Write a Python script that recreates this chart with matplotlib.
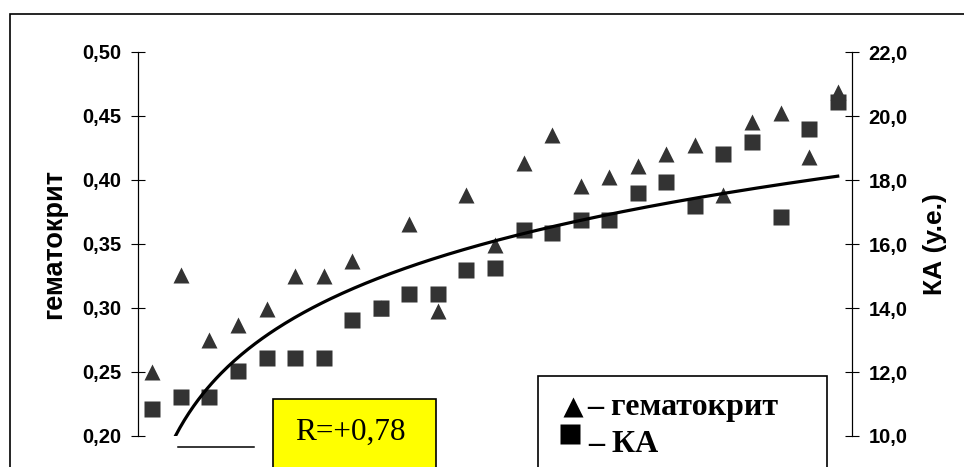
import numpy as np
import matplotlib
matplotlib.use("Agg")
import matplotlib.pyplot as plt
from matplotlib.patches import Rectangle
from matplotlib.lines import Line2D
from matplotlib.ticker import FuncFormatter, MultipleLocator

# sample number (x axis is hidden in the original)
nums = list(range(1, 26))

# гематокрит (left axis)
hct = [0.250, 0.326, 0.275, 0.287, 0.299, 0.325, 0.325, 0.337, 0.300, 0.366,
       0.298, 0.388, 0.349, 0.413, 0.435, 0.395, 0.402, 0.411, 0.420, 0.427,
       0.388, 0.445, 0.452, 0.418, 0.469]

# КА, у.е. (right axis)
ka = [10.84, 11.22, 11.22, 12.03, 12.44, 12.44, 12.44, 13.63, 14.00, 14.44,
      14.44, 15.19, 15.25, 16.44, 16.34, 16.75, 16.75, 17.60, 17.95, 17.20,
      18.80, 19.20, 16.85, 19.60, 20.45]

r_text = "R=+0,78"

W, H = 964, 467
plt.rcParams['font.family'] = ['Liberation Sans', 'DejaVu Sans']

def fx(x):
    return x / W

def fy(y):
    return 1 - y / H

fig = plt.figure(figsize=(W / 100, H / 100), dpi=100)
ax = fig.add_axes([fx(138), fy(436), fx(852) - fx(138), fy(52) - fy(436)])
ax2 = ax.twinx()

mcol = '#333333'
ax.plot(nums, hct, linestyle='none', marker='^', ms=11.5, color=mcol, mec='none')
ax2.plot(nums, ka, linestyle='none', marker='s', ms=11, color=mcol, mec='none')

# logarithmic trend of КА
b, a = np.polyfit(np.log(nums), ka, 1)
tx = np.linspace(nums[0], nums[-1], 300)
ax2.plot(tx, a + b * np.log(tx), color='black', lw=2.3)

for a_ in (ax, ax2):
    a_.set_xlim(0.5, 25.5)
    a_.set_xticks([])
    a_.spines['top'].set_visible(False)
    a_.spines['bottom'].set_visible(False)
    a_.spines['left'].set_linewidth(0.8)
    a_.spines['right'].set_linewidth(0.8)
    a_.tick_params(axis='y', direction='inout', length=9.5, width=0.8, pad=7,
                   labelsize=14.5)

ax.set_ylim(0.20, 0.50)
ax.yaxis.set_major_locator(MultipleLocator(0.05))
ax.yaxis.set_major_formatter(FuncFormatter(lambda v, p: f'{v:.2f}'.replace('.', ',')))
ax2.set_ylim(10, 22)
ax2.yaxis.set_major_locator(MultipleLocator(2))
ax2.yaxis.set_major_formatter(FuncFormatter(lambda v, p: f'{v:.1f}'.replace('.', ',')))
for a_ in (ax, ax2):
    for t in a_.get_yticklabels():
        t.set_fontweight('bold')

ax.set_ylabel('гематокрит', fontsize=19.5, fontweight='bold')
ax.yaxis.set_label_coords(-0.0995, 0.5)
ax2.set_ylabel('КА (у.е.)', fontsize=19, fontweight='bold')
ax2.yaxis.set_label_coords(1.0994, 0.5)

# outer frame (cut by the image edges)
fig.add_artist(Rectangle((fx(10), fy(600)), 2, fy(14) - fy(600), fill=False,
                         ec='black', lw=1.2, transform=fig.transFigure, clip_on=False))

# stray line under the axis
fig.add_artist(Line2D([fx(178), fx(254)], [fy(447), fy(447)], color='black', lw=1.1,
                      transform=fig.transFigure))

# R box
fig.add_artist(Rectangle((fx(273), fy(520)), fx(436) - fx(273), fy(399) - fy(520),
                         fc='#FFFF00', ec='black', lw=1.2, transform=fig.transFigure,
                         clip_on=False))
fig.text(fx(295), fy(440), r_text, family='Liberation Serif', fontsize=22.5,
         va='baseline', ha='left')

# legend box
fig.add_artist(Rectangle((fx(538), fy(520)), fx(827) - fx(538), fy(376) - fy(520),
                         fc='white', ec='black', lw=1.2, transform=fig.transFigure,
                         clip_on=False))
fig.add_artist(Line2D([fx(573)], [fy(407)], marker='^', ms=14.5, color='black',
                      mec='none', transform=fig.transFigure))
fig.add_artist(Line2D([fx(570)], [fy(434)], marker='s', ms=15, color='black',
                      mec='none', transform=fig.transFigure))
fig.text(fx(587), fy(415), '– гематокрит', family='Liberation Serif',
         fontweight='bold', fontsize=23, va='baseline', ha='left')
fig.text(fx(588), fy(452), '– КА', family='Liberation Serif',
         fontweight='bold', fontsize=23, va='baseline', ha='left')

fig.savefig('out.png', dpi=100)
